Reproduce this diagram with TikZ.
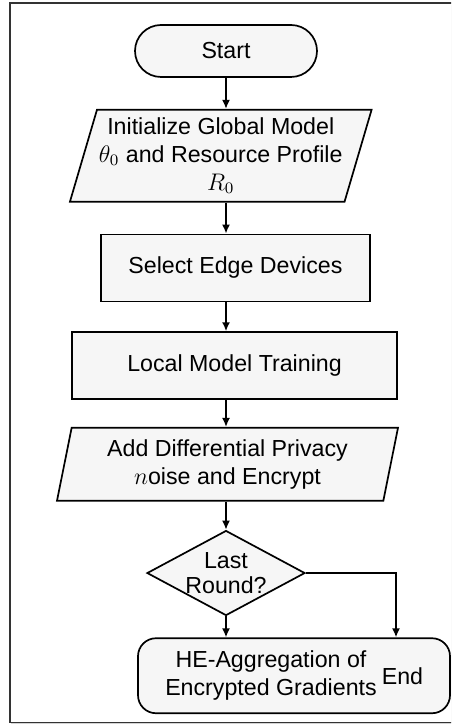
\documentclass[tikz,border=0pt]{standalone}
\usepackage{fontspec}
\setmainfont{Liberation Sans}
\usetikzlibrary{positioning,arrows.meta,shapes.geometric,shadows}

\begin{document}
\begin{tikzpicture}[
  node distance=15pt,
  every node/.style={font=\fontsize{11.6}{14}\selectfont},
  terminal/.style={draw, fill=gray!7, line width=0.85pt, rounded corners=13pt, minimum width=91pt, minimum height=26pt},
  iobox/.style={draw, fill=gray!7, line width=0.85pt, trapezium, trapezium stretches body, align=center, inner sep=1pt},
  process/.style={draw, fill=gray!7, line width=0.85pt, minimum height=33.5pt},
  decision/.style={draw, fill=gray!7, line width=0.85pt, diamond, minimum width=79pt, minimum height=42.5pt, inner sep=0pt},
  flow/.style={-{Latex[length=4.5pt,width=4pt]}, line width=0.85pt}
]
  \useasboundingbox (0,0) rectangle (225.5pt,-363pt);
  \clip (0,0) rectangle (225.5pt,-363pt);
  % frame
  \draw[line width=0.8pt, draw=black!80, fill=white, drop shadow={shadow xshift=0.6pt, shadow yshift=-1pt, opacity=0.35}] (5pt,-1.5pt) rectangle (240pt,-361.2pt);

  \node[terminal] (start) at (113pt,-25.5pt) {Start};
  \node[iobox, below=15.5pt of start, xshift=-2.6pt, minimum width=149pt, minimum height=46pt,
        trapezium left angle=71.4, trapezium right angle=108.6] (init)
        {Initialize Global Model\\$\theta_0$ and Resource Profile\\$R_0$};
  \node[process, below=15.5pt of init, xshift=7.35pt, minimum width=134.5pt] (select) {Select Edge Devices};
  \node[process, below=14.5pt of select, xshift=-0.5pt, minimum width=162.5pt] (local) {Local Model Training};
  \node[iobox, below=13.5pt of local, xshift=-3.5pt, minimum width=170.5pt, minimum height=36.5pt,
        trapezium left angle=74.7, trapezium right angle=105.3] (privacy)
        {Add Differential Privacy\\$n$oise and Encrypt};
  \node[decision, below=14pt of privacy, xshift=-0.75pt,
        label={[align=center, inner sep=0pt, font=\fontsize{11.6}{12.5}\selectfont]center:Last\\Round?}] (decide) {};
  \node[terminal, below=10.5pt of decide, xshift=34pt, rounded corners=9pt,
        minimum width=156pt, minimum height=37.5pt] (final) {};
  \node[align=center] (aggr) at ([xshift=-11.5pt]final.center) {HE-Aggregation of\\Encrypted Gradients};
  \node (endtxt) at ([xshift=54.25pt]final.center) {End};

  \draw[flow] (start.south) -- (start.south |- init.north);
  \draw[flow] (start |- init.south) -- (start |- select.north);
  \draw[flow] (start |- select.south) -- (start |- local.north);
  \draw[flow] (start |- local.south) -- (start |- privacy.north);
  \draw[flow] (start |- privacy.south) -- (decide.north);
  \draw[flow] (decide.south) -- (decide.south |- final.north);
  \draw[flow] (decide.east) -| ([xshift=51pt]final.north);
\end{tikzpicture}
\end{document}
